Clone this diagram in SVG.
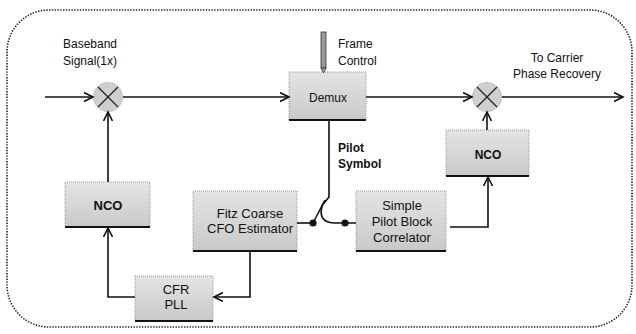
<svg xmlns="http://www.w3.org/2000/svg" width="636" height="334" viewBox="0 0 636 334">
<defs>
<linearGradient id="boxg" x1="0" y1="0" x2="0" y2="1">
<stop offset="0" stop-color="#e4e4e4"/>
<stop offset="1" stop-color="#c9c9c9"/>
</linearGradient>
<marker id="arr" markerUnits="userSpaceOnUse" markerWidth="12" markerHeight="12" refX="9" refY="5" orient="auto">
<path d="M0,0.5 L9,5 L0,9.5" fill="none" stroke="#111" stroke-width="1.6"/>
</marker>
</defs>
<style>
.frame{fill:none;stroke:#222;stroke-width:1.6;stroke-dasharray:1.4 1.4}
.box{fill:url(#boxg);stroke:#9a9a9a;stroke-width:1;stroke-dasharray:1 1}
.base{stroke:#111;stroke-width:2}
.mix{fill:#cfcfcf;stroke:#999;stroke-width:1;stroke-dasharray:1 1}
.x{stroke:#222;stroke-width:1.3}
.c{fill:none;stroke:#111;stroke-width:1.6}
.ca{fill:none;stroke:#111;stroke-width:1.6;marker-end:url(#arr)}
.t{font-family:"Liberation Sans",Arial,sans-serif;font-size:12px;fill:#111}
.tb{font-family:"Liberation Sans",Arial,sans-serif;font-size:13px;fill:#111;text-anchor:middle}
.bold{font-weight:bold}
.mid{text-anchor:middle}
</style>
<rect class="frame" x="7" y="10" width="625" height="317" rx="42" ry="42"/>

<g id="mixer1">
<circle class="mix" cx="108" cy="97" r="14.5"/>
<line class="x" x1="98" y1="87" x2="118" y2="107"/>
<line class="x" x1="118" y1="87" x2="98" y2="107"/>
</g>
<g id="mixer2">
<circle class="mix" cx="487" cy="97" r="14.5"/>
<line class="x" x1="477" y1="87" x2="497" y2="107"/>
<line class="x" x1="497" y1="87" x2="477" y2="107"/>
</g>
<g id="demux">
<rect class="box" x="289" y="72" width="77" height="48"/>
<line class="base" x1="289" y1="120" x2="366" y2="120"/>
<text class="t mid" x="328" y="102">Demux</text>
</g>
<g id="nco-right">
<rect class="box" x="446" y="130" width="83" height="46"/>
<line class="base" x1="446" y1="176" x2="529" y2="176"/>
<text class="t mid bold" x="488" y="159">NCO</text>
</g>
<g id="nco-left">
<rect class="box" x="65" y="182" width="85" height="45"/>
<line class="base" x1="65" y1="227" x2="150" y2="227"/>
<text class="tb bold" x="108" y="210" font-size="12">NCO</text>
</g>
<g id="fitz">
<rect class="box" x="193" y="191" width="104" height="60"/>
<line class="base" x1="193" y1="251" x2="297" y2="251"/>
<text class="tb" x="250" y="218">Fitz Coarse</text>
<text class="tb" x="250" y="233">CFO Estimator</text>
</g>
<g id="correlator">
<rect class="box" x="356" y="191" width="90" height="60"/>
<line class="base" x1="356" y1="251" x2="446" y2="251"/>
<text class="tb" x="402" y="210">Simple</text>
<text class="tb" x="402" y="226">Pilot Block</text>
<text class="tb" x="402" y="242">Correlator</text>
</g>
<g id="cfr-pll">
<rect class="box" x="135" y="276" width="78" height="45"/>
<line class="base" x1="135" y1="321" x2="213" y2="321"/>
<text class="tb" x="176" y="294" font-size="12">CFR</text>
<text class="tb" x="176" y="309" font-size="12">PLL</text>
</g>
<g id="frame-control">
<rect x="321" y="32" width="5" height="36" fill="#9a9a9a" stroke="#333" stroke-width="0.8"/>
<path d="M321,68 L326,68 L323.5,73 Z" fill="#9a9a9a" stroke="#333" stroke-width="0.8"/>
</g>

<g id="connectors">
<path class="ca" d="M45,97 L93,97"/>
<path class="ca" d="M123,97 L289,97"/>
<path class="ca" d="M366,97 L472,97"/>
<path class="ca" d="M502,97 L623,97"/>
<path class="ca" d="M487,130 L487,112"/>
<path class="ca" d="M450,227 L488,227 L488,177"/>
<path class="ca" d="M108,182 L108,112"/>
<path class="ca" d="M135,297 L108,297 L108,228"/>
<path class="ca" d="M250,251 L250,297 L214,297"/>
<path class="c" d="M329,120 L329,197 L322.5,205 Q317,222 334,223 L356,223"/>
<path class="c" d="M325,200 L313,223"/>
<path class="c" d="M297,223 L313,223"/>
<circle cx="313" cy="223" r="3.6" fill="#111"/>
<circle cx="345" cy="223" r="3.6" fill="#111"/>
</g>

<g id="labels">
<text class="t" x="63" y="48">Baseband</text>
<text class="t" x="63" y="65">Signal(1x)</text>
<text class="t" x="338" y="48">Frame</text>
<text class="t" x="338" y="65">Control</text>
<text class="t mid" x="557" y="62">To Carrier</text>
<text class="t mid" x="557" y="78">Phase Recovery</text>
<text class="t bold" x="338" y="152">Pilot</text>
<text class="t bold" x="338" y="168">Symbol</text>
</g>
</svg>
